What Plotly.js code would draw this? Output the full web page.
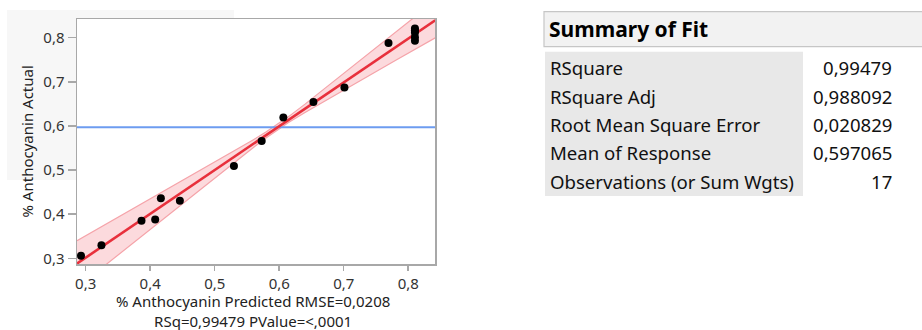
<!DOCTYPE html>
<html>
<head>
<meta charset="utf-8">
<script src="https://cdn.plot.ly/plotly-3.0.1.min.js"></script>
<style>
  html, body { margin: 0; padding: 0; background: #ffffff; }
  #chart { width: 922px; height: 330px; }
</style>
</head>
<body>
<div id="chart"></div>
<script>
// Actual by Predicted plot for % Anthocyanin, with the Summary of Fit table.

// Observations: predicted vs actual
const predicted = [0.2927, 0.3244, 0.3865, 0.4077, 0.4165, 0.4460, 0.5298, 0.5728, 0.6064,
                   0.6530, 0.7011, 0.7694, 0.8104, 0.8104, 0.8104, 0.8104, 0.8104];
const actual    = [0.3059, 0.3295, 0.3850, 0.3880, 0.4360, 0.4306, 0.5090, 0.5660, 0.6190,
                   0.6540, 0.6870, 0.7880, 0.8210, 0.8170, 0.8120, 0.8010, 0.7930];

// Fitted line end points
const fitX = [0.2865, 0.8419];
const fitY = [0.2880, 0.8395];

// Confidence curves around the fit
const bandX     = [0.2865, 0.3300, 0.3800, 0.4300, 0.4800, 0.5300, 0.5600, 0.5800, 0.5970,
                   0.6150, 0.6400, 0.6800, 0.7300, 0.7800, 0.8419];
const bandUpper = [0.3396, 0.3758, 0.4174, 0.4590, 0.5008, 0.5429, 0.5687, 0.5866, 0.6030,
                   0.6217, 0.6494, 0.6953, 0.7534, 0.8117, 0.8840];
const bandLower = [0.2334, 0.2842, 0.3426, 0.4010, 0.4592, 0.5172, 0.5513, 0.5734, 0.5911,
                   0.6083, 0.6306, 0.6647, 0.7066, 0.7483, 0.7998];

// Mean of response (horizontal reference line)
const meanResponse = 0.597065;

// Axis ticks
const xTicks = [0.3, 0.4, 0.5, 0.6, 0.7, 0.8];
const yTicks = [0.3, 0.4, 0.5, 0.6, 0.7, 0.8];
const xRange = [0.2865, 0.8415];
const yRange = [0.2870, 0.8424];

// Summary of Fit table
const fitLabels = ['RSquare', 'RSquare Adj', 'Root Mean Square Error', 'Mean of Response',
                   'Observations (or Sum Wgts)'];
const fitValues = ['0,99479', '0,988092', '0,020829', '0,597065', '17'];

const FONT = 'Noto Sans, Open Sans, sans-serif';

// plot area in pixels: left 77, right 435, top 19, bottom 264
const L = 77, R = 435, T = 19, B = 264;
const px = x => (x - L) / (R - L);
const py = y => (B - y) / (B - T);

const traces = [
  { x: bandX, y: bandLower, mode: 'lines', type: 'scatter',
    line: { color: '#f5a3a9', width: 1.2 }, hoverinfo: 'skip' },
  { x: bandX, y: bandUpper, mode: 'lines', type: 'scatter', fill: 'tonexty',
    fillcolor: 'rgba(240,70,85,0.20)',
    line: { color: '#f5a3a9', width: 1.2 }, hoverinfo: 'skip' },
  { x: xRange, y: [meanResponse, meanResponse], mode: 'lines', type: 'scatter',
    line: { color: '#6d9cf0', width: 2 } },
  { x: fitX, y: fitY, mode: 'lines', type: 'scatter',
    line: { color: '#e8303c', width: 2.6 } },
  { x: predicted, y: actual, mode: 'markers', type: 'scatter',
    marker: { color: '#000000', size: 8 } }
];

const annotations = [
  { text: '% Anthocyanin Predicted RMSE=0,0208<br>RSq=0,99479 PValue=&lt;,0001',
    xref: 'paper', yref: 'paper', align: 'center', borderpad: 0,
    x: px(253), y: py(311), xanchor: 'center', yanchor: 'middle', showarrow: false,
    font: { family: FONT, size: 15, color: '#222' } },
  { text: '% Anthocyanin Actual', xref: 'paper', yref: 'paper', textangle: -90,
    x: px(26), y: py(141.5), xanchor: 'center', yanchor: 'middle', showarrow: false,
    font: { family: FONT, size: 15, color: '#222' } },
  { text: '<b>Summary of Fit</b>', xref: 'paper', yref: 'paper',
    x: px(547), y: py(29), xanchor: 'left', yanchor: 'middle', showarrow: false,
    font: { family: FONT, size: 21, color: '#000' } }
];

const rowY = [67.8, 96.2, 124.5, 152.8, 181.1];
fitLabels.forEach((lab, i) => {
  annotations.push({ text: lab, xref: 'paper', yref: 'paper', x: px(548), y: py(rowY[i]),
    xanchor: 'left', yanchor: 'middle', showarrow: false,
    font: { family: FONT, size: 18.6, color: '#111' } });
  annotations.push({ text: fitValues[i], xref: 'paper', yref: 'paper', x: px(894), y: py(rowY[i]),
    xanchor: 'right', yanchor: 'middle', showarrow: false,
    font: { family: FONT, size: 18.6, color: '#111' } });
});

const shapes = [
  // light panel behind the upper-left of the figure
  { type: 'rect', xref: 'paper', yref: 'paper', layer: 'below',
    x0: px(7), x1: px(234), y0: py(180), y1: py(10),
    fillcolor: '#f7f7f7', line: { width: 0 } },
  // white plotting area on top of the panel
  { type: 'rect', xref: 'paper', yref: 'paper', layer: 'below',
    x0: 0, x1: 1, y0: 0, y1: 1,
    fillcolor: '#ffffff', line: { width: 0 } },
  // table header box
  { type: 'rect', xref: 'paper', yref: 'paper', layer: 'below',
    x0: px(544), x1: px(930), y0: py(46.7), y1: py(11.7),
    fillcolor: '#f2f2f2', line: { color: '#c6c6c6', width: 1.2 } },
  // label column background
  { type: 'rect', xref: 'paper', yref: 'paper', layer: 'below',
    x0: px(545), x1: px(803), y0: py(196), y1: py(51.7),
    fillcolor: '#e8e8e8', line: { width: 0 } }
];

const axisCommon = {
  showgrid: false, zeroline: false, showline: true, mirror: true,
  linecolor: '#a8a8a8', linewidth: 1.5, ticks: 'outside', tickcolor: '#a8a8a8',
  tickwidth: 1.5, tickformat: '.1f',
  tickfont: { family: FONT, size: 15, color: '#333' }
};

const layout = {
  width: 922, height: 330,
  margin: { l: L, r: 922 - R, t: T, b: 330 - B },
  paper_bgcolor: '#ffffff', plot_bgcolor: 'rgba(0,0,0,0)',
  showlegend: false, separators: ',.',
  xaxis: Object.assign({}, axisCommon, { range: xRange, tickvals: xTicks, ticklen: 5 }),
  yaxis: Object.assign({}, axisCommon, { range: yRange, tickvals: yTicks, ticklen: 8 }),
  annotations: annotations,
  shapes: shapes
};

Plotly.newPlot('chart', traces, layout, { displayModeBar: false, staticPlot: true });
</script>
</body>
</html>
